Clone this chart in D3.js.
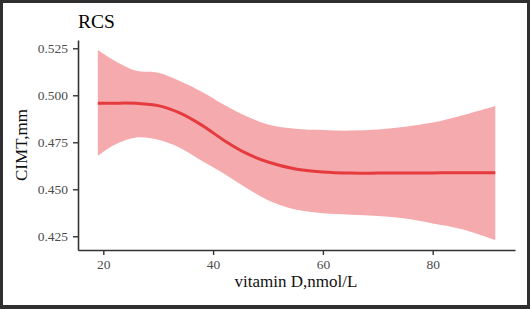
<!DOCTYPE html>
<html>
<head>
<meta charset="utf-8">
<script src="https://cdn.jsdelivr.net/npm/d3@7"></script>
<style>
  html, body { margin: 0; padding: 0; background: #2f2f2f; }
  svg { display: block; }
</style>
</head>
<body>
<div id="rcs"></div>
<script>
// Data
const vitD  = [19, 22, 26, 30, 34, 38, 42, 46, 50, 55, 60, 65, 70, 75, 80, 85, 91.4];
const cimt  = [0.4957, 0.4958, 0.4957, 0.4945, 0.4905, 0.4840, 0.4760, 0.4692, 0.4645, 0.4608, 0.4592, 0.4586, 0.4586, 0.4587, 0.4587, 0.4588, 0.4588];
const upper = [0.5241, 0.5185, 0.5130, 0.5120, 0.5075, 0.5018, 0.4950, 0.4890, 0.4845, 0.4822, 0.4815, 0.4812, 0.4818, 0.4833, 0.4855, 0.4890, 0.4943];
const lower = [0.4677, 0.4735, 0.4775, 0.4763, 0.4720, 0.4650, 0.4582, 0.4508, 0.4442, 0.4392, 0.4372, 0.4365, 0.4358, 0.4344, 0.4318, 0.4290, 0.4230];
const xTicks = [20, 40, 60, 80];
const yTicks = [0.425, 0.450, 0.475, 0.500, 0.525];

const W = 530, H = 309;
const font = "'Liberation Serif', 'Times New Roman', serif";

const data = vitD.map((x, i) => ({x: x, y: cimt[i], lo: lower[i], hi: upper[i]}));

const svg = d3.select('#rcs')
    .append('svg')
    .attr('width', W)
    .attr('height', H);

// white panel inside dark frame
svg.append('rect')
    .attr('x', 3).attr('y', 3)
    .attr('width', 524).attr('height', 302)
    .attr('fill', '#ffffff');

// Scales
const xScale = d3.scaleLinear().domain([15.39, 94.99]).range([78, 515]);
const yScale = d3.scaleLinear().domain([0.4177, 0.5294]).range([250, 40]);

// Confidence band
const band = d3.area()
    .x(d => xScale(d.x))
    .y0(d => yScale(d.lo))
    .y1(d => yScale(d.hi))
    .curve(d3.curveCatmullRom.alpha(0.5));

svg.append('path')
    .datum(data)
    .attr('d', band)
    .attr('fill', '#f5abad');

// Fitted line
const fit = d3.line()
    .x(d => xScale(d.x))
    .y(d => yScale(d.y))
    .curve(d3.curveCatmullRom.alpha(0.5));

svg.append('path')
    .datum(data)
    .attr('d', fit)
    .attr('fill', 'none')
    .attr('stroke', '#e53a3e')
    .attr('stroke-width', 3);

// Axes
const xAxis = svg.append('g')
    .attr('transform', 'translate(0,250)')
    .call(d3.axisBottom(xScale).tickValues(xTicks).tickSize(5).tickSizeOuter(0).tickPadding(4));

const yAxis = svg.append('g')
    .attr('transform', 'translate(78,0)')
    .call(d3.axisLeft(yScale).tickValues(yTicks).tickFormat(d3.format('.3f')).tickSize(5).tickSizeOuter(0).tickPadding(5));

[xAxis, yAxis].forEach(g => {
    g.select('.domain').attr('stroke', '#333').attr('stroke-width', 1.6);
    g.selectAll('.tick line').attr('stroke', '#333').attr('stroke-width', 1.4);
    g.selectAll('.tick text')
        .attr('fill', '#4d4d4d')
        .style('font-family', font)
        .style('font-size', '13.5px');
});

// Titles
svg.append('text')
    .attr('x', 78)
    .attr('y', 28)
    .style('font-family', font)
    .style('font-size', '19.5px')
    .attr('fill', '#000')
    .text('RCS');

svg.append('text')
    .attr('x', 296)
    .attr('y', 287)
    .attr('text-anchor', 'middle')
    .style('font-family', font)
    .style('font-size', '17px')
    .attr('fill', '#111')
    .text('vitamin D,nmol/L');

svg.append('text')
    .attr('transform', 'translate(27,145) rotate(-90)')
    .attr('text-anchor', 'middle')
    .style('font-family', font)
    .style('font-size', '17px')
    .attr('fill', '#111')
    .text('CIMT,mm');
</script>
</body>
</html>
